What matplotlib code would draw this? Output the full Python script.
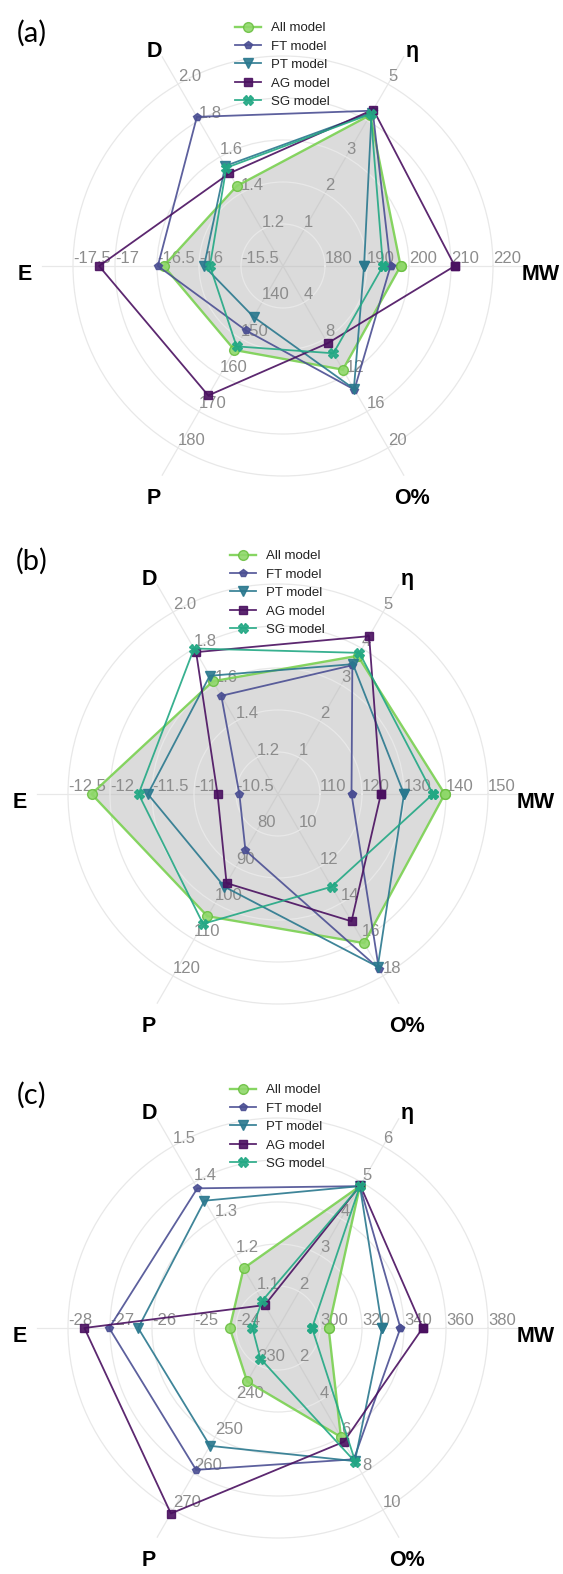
import numpy as np
import matplotlib
matplotlib.use('Agg')
import matplotlib.pyplot as plt
from matplotlib import transforms

plt.rcParams['font.family'] = ['Liberation Sans', 'DejaVu Sans']

#%% data
axis_names = ['MW', 'η', 'D', 'E', 'P', 'O%']
axis_angles = [0, 60, 120, 180, 240, 300]
models = ['All model', 'FT model', 'PT model', 'AG model', 'SG model']

# tick labels per axis (rings 1..5), order MW, eta, D, E, P, O%
ticks_a = [['180', '190', '200', '210', '220'], ['1', '2', '3', '4', '5'],
           ['1.2', '1.4', '1.6', '1.8', '2.0'], ['-15.5', '-16', '-16.5', '-17', '-17.5'],
           ['140', '150', '160', '170', '180'], ['4', '8', '12', '16', '20']]
ticks_b = [['110', '120', '130', '140', '150'], ['1', '2', '3', '4', '5'],
           ['1.2', '1.4', '1.6', '1.8', '2.0'], ['-10.5', '-11', '-11.5', '-12', '-12.5'],
           ['80', '90', '100', '110', '120'], ['10', '12', '14', '16', '18']]
ticks_c = [['300', '320', '340', '360', '380'], ['2', '3', '4', '5', '6'],
           ['1.1', '1.2', '1.3', '1.4', '1.5'], ['-24', '-25', '-26', '-27', '-28'],
           ['230', '240', '250', '260', '270'], ['2', '4', '6', '8', '10']]

# values: MW, eta, D, E, P, O%
all_a = [198.0, 4.15, 1.44, -16.42, 153.1, 11.4]
ft_a = [195.6, 4.27, 1.82, -16.49, 147.7, 13.6]
pt_a = [189.3, 4.22, 1.55, -15.94, 144.0, 13.5]
ag_a = [210.9, 4.30, 1.51, -17.19, 165.6, 8.5]
sg_a = [193.8, 4.18, 1.54, -15.87, 152.1, 9.6]

all_b = [139.7, 3.80, 1.62, -12.22, 103.6, 16.2]
ft_b = [117.5, 3.54, 1.54, -10.46, 85.5, 17.6]
pt_b = [130.0, 3.57, 1.65, -11.55, 95.5, 17.5]
ag_b = [124.5, 4.34, 1.78, -10.72, 94.5, 15.0]
sg_b = [136.9, 3.88, 1.80, -11.66, 105.7, 13.1]

all_c = [304.1, 4.90, 1.164, -24.15, 234.7, 5.99]
ft_c = [338.3, 4.90, 1.384, -27.02, 259.0, 7.22]
pt_c = [329.6, 4.90, 1.350, -26.33, 252.4, 7.32]
ag_c = [348.9, 4.92, 1.063, -27.61, 271.0, 6.26]
sg_c = [296.2, 4.90, 1.075, -23.61, 228.4, 7.38]

#%% layout
W, H = 563, 1574
fig = plt.figure(figsize=(W / 100, H / 100), dpi=100)

R5 = 210      # px radius of ring 5
RMAX = 5.05
grid_col = '#e8e8e8'

styles = [
    dict(color='#7AD151', marker='o', ms=7, lw=1.7, mfc='#8fd86a', mec='#6cc043'),
    dict(color='#4B4F93', marker='p', ms=6, lw=1.3),
    dict(color='#2A788E', marker='v', ms=6.5, lw=1.3),
    dict(color='#4A1060', marker='s', ms=6, lw=1.3),
    dict(color='#22A884', marker='X', ms=6.5, lw=1.3),
]


def to_r(vals, ticks):
    out = []
    for v, tk in zip(vals, ticks):
        t0, t1 = float(tk[0]), float(tk[1])
        step = t1 - t0
        out.append((v - (t0 - step)) / step)
    return out


def draw_panel(cx, cy, tag, ticks, series):
    rad = R5 * RMAX / 5
    ax = fig.add_axes([(cx - rad) / W, 1 - (cy + rad) / H, 2 * rad / W, 2 * rad / H],
                      projection='polar')
    ax.set_ylim(0, RMAX)
    ax.set_facecolor('none')
    ax.spines['polar'].set_visible(False)
    ax.set_xticks([])
    ax.set_yticks([1, 2, 3, 4, 5])
    ax.set_yticklabels([])
    ax.tick_params(length=0)
    ax.yaxis.grid(True, color=grid_col, lw=0.9)

    theta = np.deg2rad(axis_angles)
    for t in theta:
        ax.plot([t, t], [0, 5.75], color=grid_col, lw=0.9, clip_on=False, zorder=0)

    # tick labels sit just up-right of each ring crossing
    for j, t in enumerate(theta):
        for k, s in enumerate(ticks[j]):
            ax.text(t, k + 1, s, ha='left', va='bottom', fontsize=12,
                    color='#8c8c8c', zorder=2)

    off = transforms.offset_copy(ax.transData, fig=fig, x=0, y=-9, units='dots')
    for j, t in enumerate(theta):
        ax.text(t, 258 / R5 * 5, axis_names[j], transform=off, ha='center', va='center',
                fontsize=15.5, fontweight='bold', clip_on=False)

    th_closed = np.append(theta, theta[0])
    handles = []
    for i, vals in enumerate(series):
        r = to_r(vals, ticks)
        r = np.append(r, r[0])
        if i == 0:
            ax.fill(th_closed, r, color='#b8b8b8', alpha=0.5, lw=0, zorder=1)
        ln, = ax.plot(th_closed, r, alpha=0.9, zorder=3 + i, clip_on=False, **styles[i])
        handles.append(ln)

    ax.legend(handles, models, loc='upper left',
              bbox_to_anchor=((cx - 48) / W, 1 - (cy - 244) / H),
              bbox_transform=fig.transFigure, frameon=False, fontsize=9.5,
              handlelength=2.0, handletextpad=0.75, labelspacing=0.47,
              borderpad=0, borderaxespad=0, labelcolor='#222222')

    fig.text(32 / W, 1 - (cy - 233) / H, tag, fontsize=21, family='Lato',
             ha='center', va='center')


draw_panel(283, 266, '(a)', ticks_a, [all_a, ft_a, pt_a, ag_a, sg_a])
draw_panel(278, 794, '(b)', ticks_b, [all_b, ft_b, pt_b, ag_b, sg_b])
draw_panel(278, 1328, '(c)', ticks_c, [all_c, ft_c, pt_c, ag_c, sg_c])

fig.savefig('out.png', dpi=100)
